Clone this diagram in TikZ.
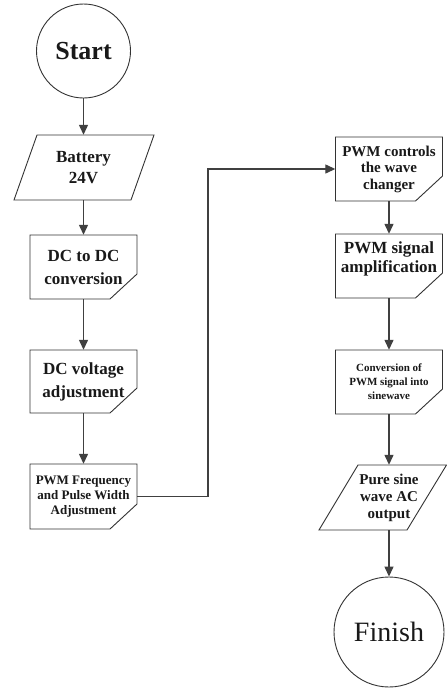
\documentclass[tikz,border=0pt]{standalone}
\usepackage{fontspec}
\setmainfont{Liberation Serif}
\usetikzlibrary{arrows.meta}
\newcommand\cutoutline[4]{%
  \draw[outline] (#1,#2) -- (#3,#2) -- (#3,#4-25) -- (#3-27,#4) -- (#1,#4) -- cycle;}
\begin{document}
\begin{tikzpicture}[x=1pt,y=-1pt,
  lbl/.style={draw=none,inner sep=0pt,align=center,text=black!90},
  outline/.style={draw=black!80,line width=0.9pt},
  arr/.style={draw=black!75,line width=1.3pt,-{Triangle[length=10pt,width=9pt]}},
  conn/.style={draw=black!75,line width=1.3pt},
  boxnode/.style={lbl,minimum width=107pt,minimum height=64pt}]
\useasboundingbox (0,0) rectangle (447,688);
\fill[white] (0,0) rectangle (447,688);

% left column
\node[circle,outline,minimum size=94pt,inner sep=0pt,text=black!90,
  font=\bfseries\fontsize{26}{30}\selectfont] (start) at (83.5,51) {Start};

\draw[outline] (37,135) -- (154,135) -- (131,200) -- (14,200) -- cycle;
\node[lbl,minimum width=100pt,minimum height=65pt,
  font=\bfseries\fontsize{17}{21}\selectfont] (bat) at (83.5,167.5) {Battery\\24V};

\cutoutline{30}{235}{137}{299}
\node[boxnode,font=\bfseries\fontsize{17}{23}\selectfont] (dc1) at (83.5,267) {DC to DC\\conversion};

\cutoutline{30}{350}{137}{413}
\node[boxnode,minimum height=63pt,font=\bfseries\fontsize{17}{23}\selectfont] (dc2) at (83.5,381.5) {DC voltage\\adjustment};

\cutoutline{30}{464}{137}{529}
\node[boxnode,minimum height=65pt,font=\bfseries\fontsize{13}{15}\selectfont] (pwmf) at (83.5,496.5) {PWM Frequency\\and Pulse Width\\Adjustment};

% right column
\cutoutline{335.5}{137}{442.5}{201}
\node[boxnode,font=\bfseries\fontsize{15}{16.5}\selectfont] (pwmc) at (389,169) {PWM controls\\the wave\\changer};

\cutoutline{335.5}{234}{442.5}{298}
\node[boxnode] (amp) at (389,266) {};
\node[lbl,font=\bfseries\fontsize{17}{19}\selectfont] (ampt) at (389,258.5) {PWM signal\\amplification};

\cutoutline{335.5}{350}{442.5}{414}
\node[boxnode,font=\bfseries\fontsize{11}{14}\selectfont] (conv) at (389,382) {Conversion of\\PWM signal into\\sinewave};

\draw[outline] (358,465) -- (446.5,465) -- (407,530) -- (319,530) -- cycle;
\node[lbl,minimum width=60pt,minimum height=65pt,
  font=\bfseries\fontsize{15}{17}\selectfont] (pure) at (389,497.5) {Pure sine\\wave AC\\output};

\node[circle,outline,minimum size=110pt,inner sep=0pt,text=black!90,
  font=\fontsize{28}{32}\selectfont] (finish) at (389,632) {Finish};

% connectors
\draw[arr] (start) -- (bat);
\draw[arr] (bat) -- (dc1);
\draw[arr] (dc1) -- (dc2);
\draw[arr] (dc2) -- (pwmf);
\coordinate (bend) at (208,169);
\draw[arr] (pwmf.east) -| (bend) -- (pwmc.west);
\draw[arr] (pwmc) -- (amp);
\draw[arr] (amp) -- (conv);
\draw[arr] (conv) -- (pure);
\draw[arr] (pure) -- (finish);
\end{tikzpicture}
\end{document}
